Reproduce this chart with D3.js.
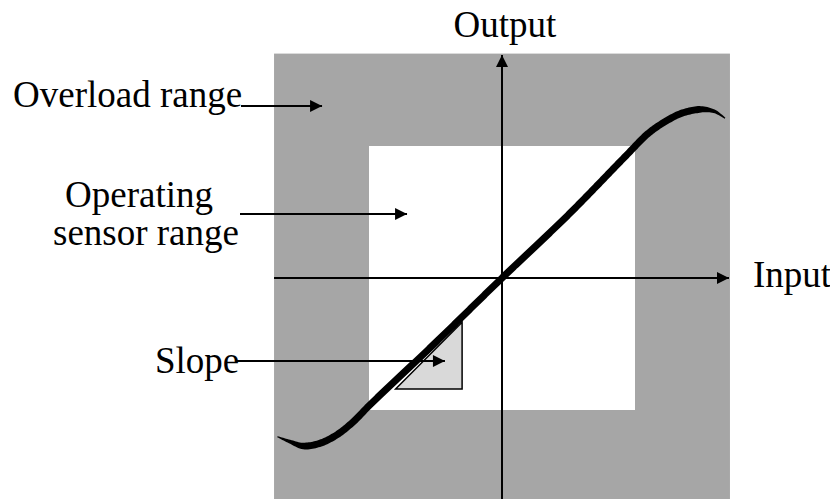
<!DOCTYPE html>
<html>
<head>
<meta charset="utf-8">
<script src="https://cdn.jsdelivr.net/npm/d3@7"></script>
<style>
  html, body { margin: 0; padding: 0; background: #fff; }
  svg { display: block; }
  text { font-family: "Liberation Serif", "Times New Roman", serif; font-size: 37px; fill: #000; }
</style>
</head>
<body>
<svg id="chart" width="830" height="499"></svg>
<script>
// ---- data (in normalised sensor units; operating range = [-1, 1]) ----
const curveX = [-1.689, -1.594, -1.494, -1.368, -1.243, -1.118, -0.992, -0.5, 0, 0.5, 0.925, 1.100, 1.226, 1.351, 1.502, 1.602, 1.677];
const curveY = [-1.202, -1.240, -1.273, -1.252, -1.189, -1.089, -0.960, -0.49, 0, 0.48, 0.919, 1.096, 1.184, 1.248, 1.278, 1.260, 1.210];
const operatingRange = [-1, 1];
const overloadRangeX = [-1.714, 1.714];
const overloadRangeY = [-1.70, 1.70];
const slopeTriX = [-0.80, -0.30, -0.30];
const slopeTriY = [-0.84, -0.84, -0.335];
const axisLabels = ["Input", "Output"];
const annotationLabels = ["Overload range", "Operating", "sensor range", "Slope"];
const annotationTipX = [-1.353, -0.714, -0.429];
const annotationTipY = [1.303, 0.485, -0.629];

const svg = d3.select("#chart");
const x = d3.scaleLinear().domain([-1, 1]).range([369, 635]);
const y = d3.scaleLinear().domain([-1, 1]).range([410, 146]);

const defs = svg.append("defs");
defs.append("marker")
  .attr("id", "arrow").attr("viewBox", "0 0 10 10")
  .attr("refX", 10).attr("refY", 5)
  .attr("markerUnits", "userSpaceOnUse")
  .attr("markerWidth", 15).attr("markerHeight", 12)
  .attr("orient", "auto")
  .append("path").attr("d", "M0,0 L10,5 L0,10 Z").attr("fill", "#000");

// overload (grey) area
svg.append("rect")
  .attr("x", x(overloadRangeX[0])).attr("y", y(overloadRangeY[1]))
  .attr("width", x(overloadRangeX[1]) - x(overloadRangeX[0]))
  .attr("height", y(overloadRangeY[0]) - y(overloadRangeY[1]))
  .attr("fill", "#a6a6a6");

// operating (white) area
svg.append("rect")
  .attr("x", x(operatingRange[0])).attr("y", y(operatingRange[1]))
  .attr("width", x(operatingRange[1]) - x(operatingRange[0]))
  .attr("height", y(operatingRange[0]) - y(operatingRange[1]))
  .attr("fill", "#ffffff");

// slope triangle
svg.append("path")
  .attr("d", d3.line()(slopeTriX.map((d, i) => [x(d), y(slopeTriY[i])])) + "Z")
  .attr("fill", "#d9d9d9").attr("stroke", "#000").attr("stroke-width", 1.5);

// axes
svg.append("line")
  .attr("x1", x(overloadRangeX[0])).attr("x2", 729)
  .attr("y1", y(0)).attr("y2", y(0))
  .attr("stroke", "#000").attr("stroke-width", 2).attr("marker-end", "url(#arrow)");
svg.append("line")
  .attr("x1", x(0)).attr("x2", x(0))
  .attr("y1", 499).attr("y2", 55)
  .attr("stroke", "#000").attr("stroke-width", 2).attr("marker-end", "url(#arrow)");

// annotation arrows
const arrowStartX = [241, 240, 236];
annotationTipX.forEach((tx, i) => {
  svg.append("line")
    .attr("x1", arrowStartX[i]).attr("x2", x(tx))
    .attr("y1", y(annotationTipY[i])).attr("y2", y(annotationTipY[i]))
    .attr("stroke", "#000").attr("stroke-width", 2).attr("marker-end", "url(#arrow)");
});

// transfer curve as a tapered ribbon
const pts = curveX.map((d, i) => [x(d), y(curveY[i])]);
const guide = svg.append("path")
  .attr("d", d3.line().curve(d3.curveCatmullRom.alpha(0.5))(pts))
  .attr("fill", "none").attr("stroke", "none");
const node = guide.node();
const L = node.getTotalLength();
const N = 400, W = 7, taper = 30;
const left = [], right = [];
for (let i = 0; i <= N; i++) {
  const s = L * i / N;
  const p = node.getPointAtLength(s);
  const p2 = node.getPointAtLength(Math.min(L, s + 0.5));
  const p1 = node.getPointAtLength(Math.max(0, s - 0.5));
  let dx = p2.x - p1.x, dy = p2.y - p1.y;
  const len = Math.hypot(dx, dy) || 1;
  dx /= len; dy /= len;
  const e = Math.min(s, L - s);
  const w = W * Math.min(1, 0.15 + 0.85 * e / taper) / 2;
  left.push([p.x - dy * w, p.y + dx * w]);
  right.push([p.x + dy * w, p.y - dx * w]);
}
svg.append("path")
  .attr("d", d3.line()(left.concat(right.reverse())) + "Z")
  .attr("fill", "#000");

// axis labels
svg.append("text").attr("x", x(0) + 3).attr("y", 37).attr("text-anchor", "middle").text(axisLabels[1]);
svg.append("text").attr("x", 753).attr("y", 287).text(axisLabels[0]);

// annotation labels
svg.append("text").attr("x", 13).attr("y", 107).text(annotationLabels[0]);
svg.append("text").attr("x", 65).attr("y", 207).text(annotationLabels[1]);
svg.append("text").attr("x", 53).attr("y", 245).text(annotationLabels[2]);
svg.append("text").attr("x", 155).attr("y", 373).text(annotationLabels[3]);
</script>
</body>
</html>
